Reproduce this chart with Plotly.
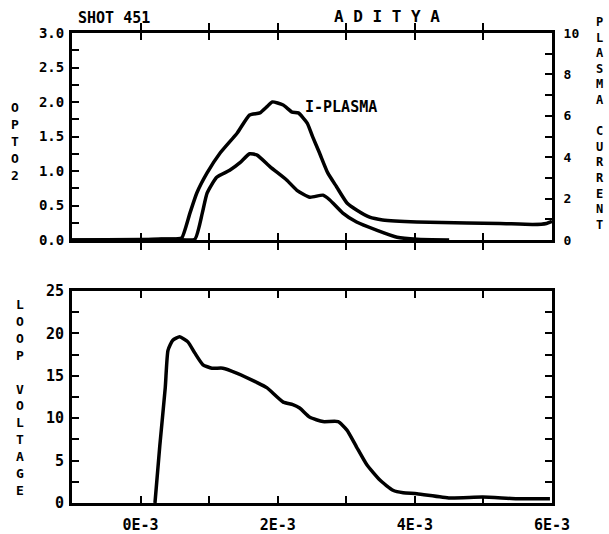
import plotly.graph_objects as go

# ---------------- data (time in ms) ----------------
ip_t = [-1.0, 0.0, 0.3, 0.5, 0.60, 0.72, 0.82, 0.97, 1.16, 1.41, 1.59, 1.74, 1.84, 1.92, 2.08,
        2.21, 2.30, 2.43, 2.51, 2.61, 2.73, 2.86, 3.01, 3.15, 3.34, 3.53, 4.03, 4.76, 5.24,
        5.72, 5.92, 6.0]
ip_v = [0.0, 0.0, 0.05, 0.05, 0.1, 1.3, 2.27, 3.24, 4.2, 5.17, 6.04, 6.14, 6.43, 6.67, 6.52,
        6.18, 6.14, 5.65, 4.98, 4.2, 3.24, 2.56, 1.79, 1.45, 1.1, 0.97, 0.87, 0.82, 0.80,
        0.75, 0.8, 0.9]

opto_t = [-1.0, 0.5, 0.79, 0.90, 0.97, 1.11, 1.30, 1.45, 1.59, 1.70, 1.89, 2.13, 2.28, 2.47,
          2.66, 2.76, 2.95, 3.15, 3.45, 3.74, 4.03, 4.5]
opto_v = [0.0, 0.01, 0.01, 0.39, 0.68, 0.91, 1.01, 1.12, 1.25, 1.23, 1.06, 0.87, 0.72, 0.62,
          0.65, 0.58, 0.39, 0.26, 0.14, 0.04, 0.01, 0.0]

lv_t = [0.21, 0.28, 0.36, 0.40, 0.47, 0.57, 0.69, 0.79, 0.91, 1.04, 1.20, 1.41, 1.70, 1.84,
        2.08, 2.22, 2.32, 2.47, 2.66, 2.88, 3.01, 3.15, 3.30, 3.49, 3.68, 3.83, 4.03, 4.51,
        4.99, 5.49, 5.97]
lv_v = [0.0, 6.7, 13.6, 18.0, 19.2, 19.6, 19.0, 17.7, 16.3, 15.9, 15.9, 15.3, 14.2, 13.6,
        11.9, 11.6, 11.2, 10.1, 9.6, 9.6, 8.6, 6.6, 4.5, 2.7, 1.5, 1.2, 1.1, 0.6,
        0.7, 0.5, 0.5]

x_tickvals = [-1e-3, 0, 1e-3, 2e-3, 3e-3, 4e-3, 5e-3, 6e-3]
x_ticktext = ["", "0E-3", "", "2E-3", "", "4E-3", "", "6E-3"]

opto_tickvals = [i * 0.25 for i in range(13)]
opto_ticktext = ["0.0", "", "0.5", "", "1.0", "", "1.5", "", "2.0", "", "2.5", "", "3.0"]

ip_tickvals = list(range(11))
ip_ticktext = ["0", "", "2", "", "4", "", "6", "", "8", "", "10"]

lv_tickvals = [i * 2.5 for i in range(11)]
lv_ticktext = ["0", "", "5", "", "10", "", "15", "", "20", "", "25"]

# ---------------- figure ----------------
MONO = "DejaVu Sans Mono"
LW = 3.5

def s(t):
    return [v * 1e-3 for v in t]

line_style = dict(color="black", width=LW, shape="spline", smoothing=0.5)

fig = go.Figure()
fig.add_trace(go.Scatter(x=s(ip_t), y=ip_v, xaxis="x", yaxis="y2", mode="lines",
                         line=line_style, showlegend=False))
fig.add_trace(go.Scatter(x=s(opto_t), y=opto_v, xaxis="x", yaxis="y", mode="lines",
                         line=line_style, showlegend=False))
fig.add_trace(go.Scatter(x=s(lv_t), y=lv_v, xaxis="x2", yaxis="y3", mode="lines",
                         line=line_style, showlegend=False))

axis_common = dict(showgrid=False, zeroline=False, showline=True, linecolor="black",
                   linewidth=3, ticks="inside", tickcolor="black", tickwidth=2, ticklen=7,
                   automargin=False)

top_dom = [(503 - 240) / 470, 1.0]
bot_dom = [0.0, (503 - 291) / 470]

fig.update_layout(
    width=609, height=534, autosize=False,
    margin=dict(l=72, r=57, t=33, b=31),
    paper_bgcolor="white", plot_bgcolor="white",
    xaxis=dict(domain=[0, 1], anchor="y", range=[-1e-3, 6e-3], tickvals=x_tickvals,
               ticktext=[""] * len(x_tickvals), mirror="allticks", **axis_common),
    yaxis=dict(domain=top_dom, anchor="x", range=[0, 3], tickvals=opto_tickvals,
               ticktext=opto_ticktext, mirror=True, ticklabelstandoff=2,
               tickfont=dict(family=MONO, size=14, color="black", weight="bold"),
               **axis_common),
    yaxis2=dict(overlaying="y", anchor="x", side="right", range=[0, 10],
                tickvals=ip_tickvals, ticktext=ip_ticktext, ticklabelstandoff=6,
                tickfont=dict(family=MONO, size=13, color="black", weight="bold"),
                **axis_common),
    xaxis2=dict(domain=[0, 1], anchor="y3", range=[-1e-3, 6e-3], tickvals=x_tickvals,
                ticktext=x_ticktext, mirror="allticks", ticklabelstandoff=6,
                tickfont=dict(family=MONO, size=15, color="black", weight="bold"),
                **axis_common),
    yaxis3=dict(domain=bot_dom, anchor="x2", range=[0, 25], tickvals=lv_tickvals,
                ticktext=lv_ticktext, mirror="allticks", ticklabelstandoff=2,
                tickfont=dict(family=MONO, size=15, color="black", weight="bold"),
                **axis_common),
)

def vert(word):
    return "<br>".join(ch if ch != " " else "\u00a0" for ch in word)

ann_font = lambda sz: dict(family=MONO, size=sz, color="black", weight="bold")

fig.add_annotation(text="SHOT 451", xref="paper", yref="paper", x=(76 - 72) / 480,
                   y=(503 - 18) / 470, xanchor="left", yanchor="middle",
                   showarrow=False, font=ann_font(15))
fig.add_annotation(text="A D I T Y A", xref="paper", yref="paper", x=(387 - 72) / 480,
                   y=(503 - 17) / 470, xanchor="center", yanchor="middle",
                   showarrow=False, font=ann_font(16))
fig.add_annotation(text="I-PLASMA", xref="x", yref="y", x=2.37e-3, y=1.93,
                   xanchor="left", yanchor="middle", showarrow=False, font=ann_font(15))
fig.add_annotation(text=vert("OPTO2"), xref="paper", yref="paper", x=(15 - 72) / 480,
                   y=(503 - 141.5) / 470, xanchor="center", yanchor="middle",
                   showarrow=False, font=ann_font(13))
fig.add_annotation(text=vert("LOOP VOLTAGE"), xref="paper", yref="paper",
                   x=(20 - 72) / 480, y=(503 - 397.5) / 470, xanchor="center",
                   yanchor="middle", showarrow=False, font=ann_font(13))
fig.add_annotation(text=vert("PLASMA CURRENT"), xref="paper", yref="paper",
                   x=(600 - 72) / 480, y=(503 - 123.5) / 470, xanchor="center",
                   yanchor="middle", showarrow=False, font=ann_font(12))

fig.write_html("out.html", config={"displayModeBar": False},
               post_script="document.body.style.margin='0';")
